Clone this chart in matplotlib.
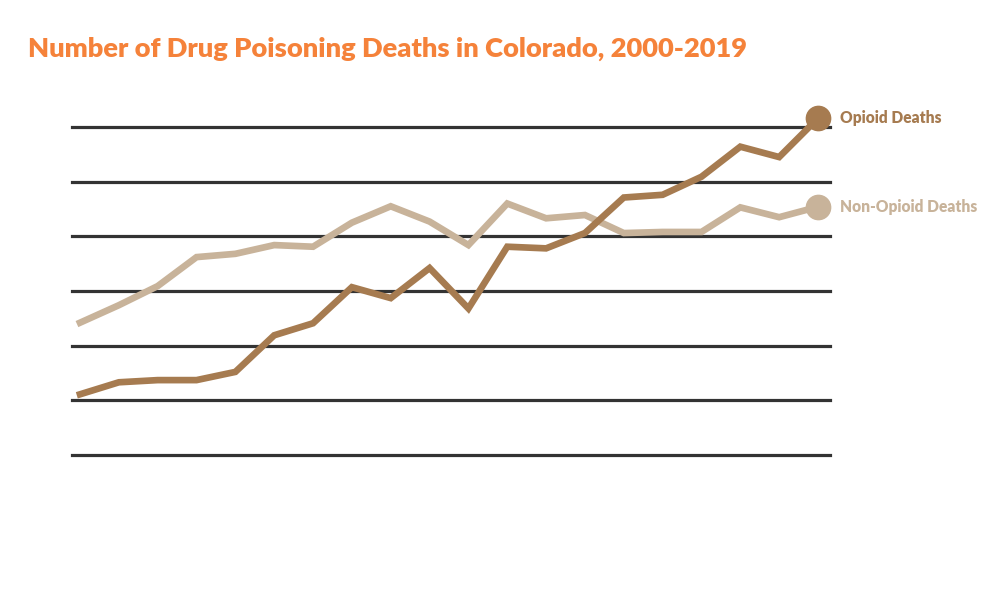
import matplotlib
matplotlib.use("Agg")
import matplotlib.pyplot as plt

years = list(range(2000, 2020))
opioid = [111, 133, 137, 137, 152, 219, 241, 307, 287, 342,
          268, 381, 378, 406, 471, 476, 509, 564, 545, 616]
non_opioid = [242, 274, 309, 362, 368, 384, 381, 425, 455, 427,
              384, 460, 433, 439, 406, 408, 408, 453, 435, 454]
grid_values = [0, 100, 200, 300, 400, 500, 600]
series_labels = ["Opioid Deaths", "Non-Opioid Deaths"]
title = "Number of Drug Poisoning Deaths in Colorado, 2000-2019"

c_op = "#A67B50"
c_non = "#C8B39A"
c_title = "#F5823A"

plt.rcParams['font.family'] = ['Lato', 'DejaVu Sans']

fig = plt.figure(figsize=(10, 5.92), dpi=100)
ax = fig.add_axes([0.072, (592 - 455) / 592, 0.758, (455 - 127) / 592])
ax.set_xlim(2000 - 8 / 38.84, 2019 + 12 / 38.84)
ax.set_ylim(0, 600)
for g in grid_values:
    ax.axhline(g, color="#333333", lw=2.3, zorder=1, clip_on=False)

ax.plot(years, non_opioid, color=c_non, lw=4.8, zorder=3, clip_on=False,
        solid_joinstyle="miter")
ax.plot(years, opioid, color=c_op, lw=4.8, zorder=4, clip_on=False,
        solid_joinstyle="miter")
ax.plot([years[-1]], [non_opioid[-1]], "o", color=c_non, ms=17.5, zorder=5, clip_on=False)
ax.plot([years[-1]], [opioid[-1]], "o", color=c_op, ms=17.5, zorder=6, clip_on=False)

ax.annotate(series_labels[0], xy=(years[-1], opioid[-1]), xytext=(16, 0),
            textcoords="offset points", va="center", ha="left",
            color=c_op, fontsize=11.2, fontweight="heavy", annotation_clip=False)
ax.annotate(series_labels[1], xy=(years[-1], non_opioid[-1]), xytext=(16, 0),
            textcoords="offset points", va="center", ha="left",
            color=c_non, fontsize=11.2, fontweight="heavy", annotation_clip=False)

ax.axis("off")
fig.text(0.028, 1 - 57 / 592, title, color=c_title, fontsize=19.6,
         fontweight="heavy", ha="left", va="baseline")

fig.savefig("out.png", dpi=100, facecolor="white")
